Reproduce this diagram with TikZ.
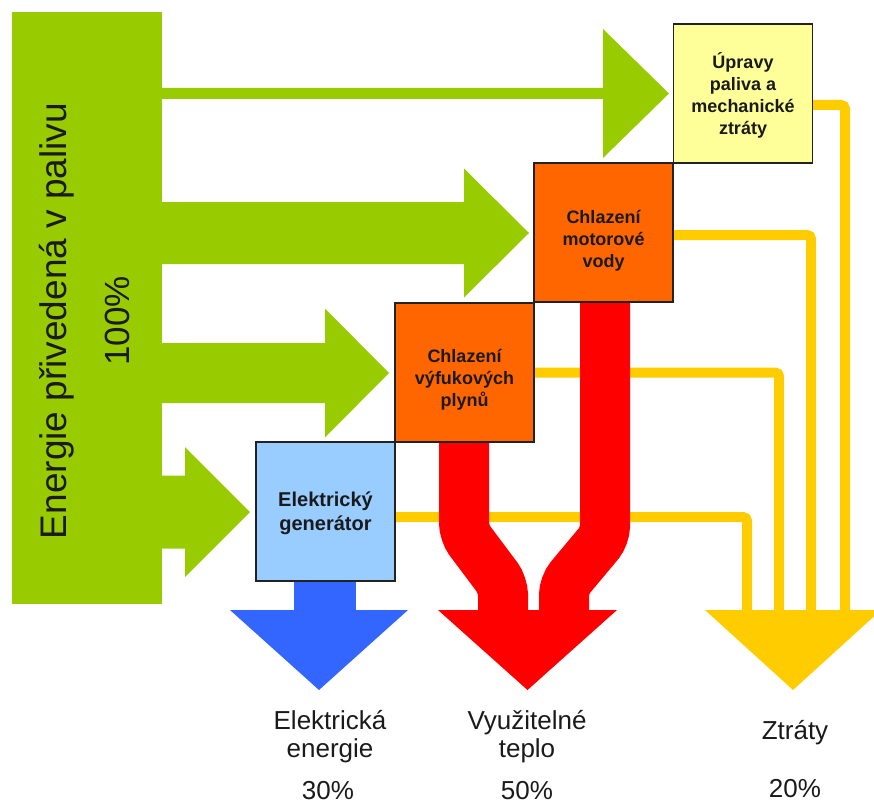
\documentclass[tikz,border=0pt]{standalone}
\usepackage{fontspec}
\setmainfont{Liberation Sans}
\definecolor{gcol}{HTML}{99CC00}
\definecolor{ocol}{HTML}{FF6600}
\definecolor{ybox}{HTML}{FFFF99}
\definecolor{bbox}{HTML}{99CCFF}
\definecolor{bcol}{HTML}{3366FF}
\definecolor{rcol}{HTML}{FF0000}
\definecolor{ycol}{HTML}{FFCC00}
\definecolor{txt}{HTML}{1A1A1A}
\definecolor{boxline}{HTML}{222222}
\newcommand\myarrow[6]{%
  \fill[gcol] (#1,{#3-#4}) -- ({#2-#6},{#3-#4}) -- ({#2-#6},{#3-#5}) -- (#2,#3)
    -- ({#2-#6},{#3+#5}) -- ({#2-#6},{#3+#4}) -- (#1,{#3+#4}) -- cycle;}
\begin{document}
\begin{tikzpicture}[x=1pt,y=-1pt,
  box/.style={draw=boxline, line width=1.5pt, minimum width=139pt, minimum height=139pt, inner sep=0pt},
  blbl/.style={font=\fontsize{18}{22}\selectfont\bfseries, text=txt, align=center, inner sep=0pt},
  yl/.style={draw=ycol, line width=10pt, rounded corners=4pt},
  redband/.style={draw=rcol, line width=50pt, rounded corners=10pt},
  lbl/.style={font=\fontsize{26}{28}\selectfont, text=txt, anchor=base, inner sep=0pt}]
\useasboundingbox (0,0) rectangle (874,805);
\clip (0,0) rectangle (874,805);

% source
\node[fill=gcol, minimum width=150pt, minimum height=592pt, inner sep=0pt] (src) at (87,308) {};
\node[rotate=90, font=\fontsize{37}{40}\selectfont, text=txt, inner sep=0pt] (vt) at (57,321) {Energie přivedená v palivu};
\node[rotate=90, font=\fontsize{35}{40}\selectfont, text=txt, inner sep=0pt] (pc) at (117,321) {100\%};

% green arrows
\myarrow{160}{669}{93.5}{5.5}{64.5}{66}
\myarrow{160}{529}{233}{31}{64.5}{65}
\myarrow{160}{389}{373}{30}{64.5}{64}
\myarrow{160}{250}{512}{36.5}{65}{65}

% box positions
\coordinate (cu) at (743,93.5);
\coordinate (cm) at (603.5,232.5);
\coordinate (cv) at (464.5,372.5);
\coordinate (ce) at (325.5,511.5);

% yellow loss lines
\coordinate (y1) at (845,612);
\coordinate (y2) at (811,612);
\coordinate (y3) at (779,612);
\coordinate (y4) at (747,612);
\draw[yl] ([yshift=-11.5pt]cu) -| (y1);
\draw[yl] ([yshift=-2.5pt]cm) -| (y2);
\draw[yl] (cv) -| (y3);
\draw[yl] ([yshift=-5.5pt]ce) -| (y4);

% red heat bands
\draw[redband] (464,440) -- (464,533) -- (503,585) -- (503,612);
\draw[redband] (605,300) -- (605,536) -- (564,585) -- (564,612);

% blue shaft
\draw[bcol, line width=62pt] (325,580) -- (325,612);

% boxes
\node[box, fill=ybox] (upr) at (cu) {};
\node[box, fill=ocol] (mot) at (cm) {};
\node[box, fill=ocol] (vyf) at (cv) {};
\node[box, fill=bbox] (ele) at (ce) {};

\node[blbl] (tu) at ([yshift=-2pt]upr.center) {Úpravy\\paliva a\\mechanické\\ztráty};
\node[blbl] (tm) at ([yshift=-8pt]mot.center) {Chlazení\\motorové\\vody};
\node[blbl] (tv) at ([yshift=-7.5pt]vyf.center) {Chlazení\\výfukových\\plynů};
\node[blbl, font=\fontsize{20}{24}\selectfont\bfseries] (te) at ([yshift=-1.5pt]ele.center) {Elektrický\\generátor};

% output arrow heads
\fill[bcol] (230,610) -- (408,610) -- (319,690) -- cycle;
\fill[rcol] (438,610) -- (617,610) -- (527.5,690) -- cycle;
\fill[ycol] (705,610) -- (881,610) -- (793,690) -- cycle;

% bottom labels
\node[lbl] (le1) at (330,729) {Elektrická};
\node[lbl] (le2) at (330,757) {energie};
\node[lbl] (lep) at (328,799) {30\%};
\node[lbl] (lv1) at (527,729) {Využitelné};
\node[lbl] (lv2) at (527,757) {teplo};
\node[lbl] (lvp) at (527,799) {50\%};
\node[lbl] (lz1) at (795,739) {Ztráty};
\node[lbl] (lzp) at (795,797) {20\%};
\end{tikzpicture}
\end{document}
